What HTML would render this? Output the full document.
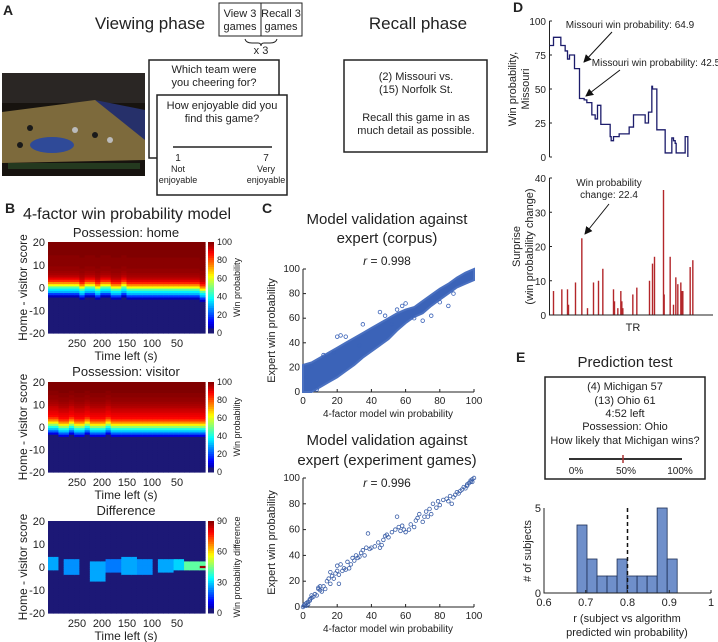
<!DOCTYPE html>
<html><head><meta charset="utf-8">
<style>
html,body{margin:0;padding:0;background:#fff;}
svg{display:block;font-family:"Liberation Sans",Arial,sans-serif;}
text{fill:#222;}
</style></head>
<body>
<svg id="fig" width="718" height="642" viewBox="0 0 718 642" xmlns="http://www.w3.org/2000/svg">
<!-- Panel A -->
<g>
<text x="3" y="15" font-size="14" font-weight="bold">A</text>
<text x="150" y="29" font-size="17" text-anchor="middle">Viewing phase</text>
<rect x="219" y="3" width="83" height="33" fill="none" stroke="#222"/>
<line x1="261" y1="3" x2="261" y2="36" stroke="#222"/>
<text x="240" y="17" font-size="11" text-anchor="middle">View 3</text>
<text x="240" y="30" font-size="11" text-anchor="middle">games</text>
<text x="281" y="17" font-size="11" text-anchor="middle">Recall 3</text>
<text x="281" y="30" font-size="11" text-anchor="middle">games</text>
<path d="M245,39 Q246,43 252,43 L258,43 Q261,43 261,46 Q261,43 264,43 L270,43 Q276,43 277,39" fill="none" stroke="#222"/>
<text x="261" y="54" font-size="11" text-anchor="middle">x 3</text>
<text x="418" y="29" font-size="17" text-anchor="middle">Recall phase</text>
<g>
<rect x="2" y="73" width="143" height="103" fill="#17130f"/>
<rect x="2" y="73" width="143" height="30" fill="#2a2624"/>
<polygon points="2,112 95,100 145,118 145,160 2,163" fill="#7d6a3c"/>
<polygon points="95,100 145,110 145,140" fill="#26306a"/>
<ellipse cx="52" cy="145" rx="22" ry="8" fill="#2f4a98"/>
<rect x="8" y="163" width="132" height="6" fill="#24391f"/>
<circle cx="30" cy="128" r="3" fill="#1a1a1a"/><circle cx="75" cy="130" r="3" fill="#bbb"/><circle cx="95" cy="135" r="3" fill="#1a1a1a"/><circle cx="110" cy="140" r="3" fill="#bbb"/><circle cx="20" cy="145" r="3" fill="#1a1a1a"/>
</g>
<rect x="149" y="60" width="130" height="98" fill="#fff" stroke="#222" stroke-width="1.5"/>
<text x="214" y="73" font-size="11" text-anchor="middle">Which team were</text>
<text x="214" y="86" font-size="11" text-anchor="middle">you cheering for?</text>
<rect x="157" y="95" width="130" height="100" fill="#fff" stroke="#222" stroke-width="1.5"/>
<text x="222" y="109" font-size="11" text-anchor="middle">How enjoyable did you</text>
<text x="222" y="122" font-size="11" text-anchor="middle">find this game?</text>
<line x1="173" y1="147" x2="272" y2="147" stroke="#222" stroke-width="1.5"/>
<text x="178" y="161" font-size="10" text-anchor="middle">1</text>
<text x="178" y="172" font-size="9" text-anchor="middle">Not</text>
<text x="178" y="183" font-size="9" text-anchor="middle">enjoyable</text>
<text x="266" y="161" font-size="10" text-anchor="middle">7</text>
<text x="266" y="172" font-size="9" text-anchor="middle">Very</text>
<text x="266" y="183" font-size="9" text-anchor="middle">enjoyable</text>
<rect x="344" y="60" width="143" height="92" fill="none" stroke="#222" stroke-width="1.5"/>
<text x="416" y="80" font-size="11" text-anchor="middle">(2) Missouri vs.</text>
<text x="416" y="93" font-size="11" text-anchor="middle">(15) Norfolk St.</text>
<text x="416" y="121" font-size="11" text-anchor="middle">Recall this game in as</text>
<text x="416" y="134" font-size="11" text-anchor="middle">much detail as possible.</text>
</g>
<!-- Panel B static text -->
<g>
<text x="5" y="213" font-size="14" font-weight="bold">B</text>
<text x="127" y="219" font-size="16" text-anchor="middle">4-factor win probability model</text>
<text x="126" y="237" font-size="13" text-anchor="middle">Possession: home</text>
<text x="126" y="376" font-size="13" text-anchor="middle">Possession: visitor</text>
<text x="126" y="515" font-size="13" text-anchor="middle">Difference</text>
<g id="heatmaps"></g>
</g>
<!-- Panel C -->
<g>
<text x="262" y="213" font-size="14" font-weight="bold">C</text>
<text x="387" y="224" font-size="15" text-anchor="middle">Model validation against</text>
<text x="387" y="243" font-size="15" text-anchor="middle">expert (corpus)</text>
<text x="387" y="265" font-size="12" text-anchor="middle"><tspan font-style="italic">r</tspan> = 0.998</text>
<text x="387" y="445" font-size="15" text-anchor="middle">Model validation against</text>
<text x="387" y="465" font-size="15" text-anchor="middle">expert (experiment games)</text>
<text x="387" y="487" font-size="12" text-anchor="middle"><tspan font-style="italic">r</tspan> = 0.996</text>
<g id="scatters"></g>
</g>
<!-- Panel D -->
<g>
<text x="513" y="12" font-size="14" font-weight="bold">D</text>
<g id="dplots"></g>
<text x="633" y="331" font-size="11" text-anchor="middle">TR</text>
<text x="630" y="28" font-size="10" text-anchor="middle">Missouri win probability: 64.9</text>
<text x="656" y="66" font-size="10" text-anchor="middle">Missouri win probability: 42.5</text>
<text x="609" y="186" font-size="10" text-anchor="middle">Win probability</text>
<text x="609" y="198" font-size="10" text-anchor="middle">change: 22.4</text>
<defs><marker id="ah" markerWidth="8" markerHeight="8" refX="7" refY="4" orient="auto"><path d="M0,0 L8,4 L0,8 z" fill="#111"/></marker></defs>
<line x1="612" y1="32" x2="584" y2="62" stroke="#111" marker-end="url(#ah)"/>
<line x1="620" y1="70" x2="586" y2="96" stroke="#111" marker-end="url(#ah)"/>
<line x1="609" y1="204" x2="585" y2="234" stroke="#111" marker-end="url(#ah)"/>
</g>
<!-- Panel E -->
<g>
<text x="516" y="362" font-size="14" font-weight="bold">E</text>
<text x="625" y="367" font-size="15" text-anchor="middle">Prediction test</text>
<rect x="545" y="377" width="160" height="102" fill="none" stroke="#222" stroke-width="1.5"/>
<text x="625" y="390" font-size="11" text-anchor="middle">(4) Michigan 57</text>
<text x="625" y="404" font-size="11" text-anchor="middle">(13) Ohio 61</text>
<text x="625" y="417" font-size="11" text-anchor="middle">4:52 left</text>
<text x="625" y="430" font-size="11" text-anchor="middle">Possession: Ohio</text>
<text x="625" y="444" font-size="11" text-anchor="middle">How likely that Michigan wins?</text>
<line x1="569" y1="459" x2="682" y2="459" stroke="#333" stroke-width="2"/>
<line x1="623" y1="455" x2="623" y2="463" stroke="#a33" stroke-width="1.5"/>
<text x="576" y="474" font-size="10" text-anchor="middle">0%</text>
<text x="626" y="474" font-size="10" text-anchor="middle">50%</text>
<text x="680" y="474" font-size="10" text-anchor="middle">100%</text>
<g id="hist"></g>
<text x="627" y="622" font-size="11" text-anchor="middle">r (subject vs algorithm</text>
<text x="627" y="636" font-size="11" text-anchor="middle">predicted win probability)</text>
<text transform="translate(531,551) rotate(-90)" font-size="11" text-anchor="middle"># of subjects</text>
</g>
</svg>
<script>
// ---------- data ----------
// Panel B heatmaps
const scoreRows = [20,19,18,17,16,15,14,13,12,11,10,9,8,7,6,5,4,3,2,1,0,-1,-2,-3,-4,-5,-6,-7,-8,-9,-10,-11,-12,-13,-14,-15,-16,-17,-18,-19,-20];
const homeProb = [100,100,100,100,100,100,100,99,99,99,99,99,98,98,97,96,94,90,84,74,62,46,36,30,18,6,1,0,0,0,0,0,0,0,0,0,0,0,0,0,0];
const visitorProb = [100,100,100,100,100,99,99,98,98,97,96,95,93,92,90,89,87,82,74,64,52,40,32,22,10,3,0,0,0,0,0,0,0,0,0,0,0,0,0,0,0];
const homeShift = [-1,-1,-1,-1,-1,-1,0,-1,-1,0,-1,-1,0,0,-1,0,0,0,0,0,0,0,0,0,0,0,0,0,0,1];
const visitorShift = [-1,-1,0,0,-1,0,0,-1,0,0,0,-1,0,0,0,0,0,0,0,0,0,0,0,0,0,0,0,0,0,0];
const diffPatches = [[0,1,-1,4,26],[3,5,-3,3,24],[8,10,-6,2,26],[11,13,-2,3,22],[14,16,-3,4,26],[17,19,-3,3,24],[21,23,-2,3,26],[24,25,-1,3,30],[26,29,-1,2,42]];
const timeTicks = [250,200,150,100,50];
const scoreTicks = [20,10,0,-10,-20];
const probBarTicks = [100,80,60,40,20,0];
const diffBarTicks = [90,60,30,0];
// Panel C
const bandX = [0,5,10,15,20,25,30,35,40,45,50,55,60,65,70,75,80,85,90,95,100];
const bandLow = [0,0,4,8,12,17,22,28,33,38,43,50,56,61,64,70,75,80,85,88,91];
const bandHigh = [22,24,28,32,36,40,44,48,52,56,60,64,67,69,74,79,84,88,93,97,100];
const corpusOutX = [5,12,18,20,22,25,35,45,52,55,60,65,70,75,80,85,88,2,8,48,58,33];
const corpusOutY = [21,30,32,45,46,45,55,65,55,67,72,60,58,62,73,70,80,12,2,62,70,38];
const gamesX = [0,0.5,1,1,2,2,3,3,4,4,5,5,6,7,8,9,9,10,10,11,12,13,14,15,16,16,17,18,19,20,20,21,21,22,23,24,25,26,27,28,29,30,31,32,33,34,35,36,37,38,39,40,42,44,45,46,47,48,49,50,52,54,55,56,57,58,59,60,62,63,65,66,67,68,70,71,72,73,74,75,76,78,79,80,82,84,85,86,87,88,89,90,91,92,93,94,95,96,96,97,98,98,99,99,100];
const gamesY = [0,1,2,1,3,1,4,2,5,6,7,9,8,10,9,15,14,16,13,12,16,14,20,22,18,27,24,22,26,32,28,25,18,33,28,30,29,35,30,33,38,36,40,38,39,42,44,40,46,57,45,46,47,50,46,48,52,55,56,54,58,60,70,62,59,63,60,58,60,64,62,67,69,72,66,70,74,70,76,72,80,77,82,79,83,84,82,86,80,85,87,89,88,90,91,93,92,95,94,96,97,98,99,97,100];
const axisTicks100 = [0,20,40,60,80,100];
// Panel D
const stepTR = [0,12,34,47,54,60,75,90,104,112,127,137,144,154,182,185,192,209,239,252,287,297,307,309,322,347,360,367,372,377,380,407,415];
const winProb = [82,88,82,78,72,75,65,43,42,40,31,28,38,24,15,12,15,17,22,31,25,33,52,50,20,3,3,14,12,10,3,15,0];
const spikeTR = [12,37,54,57,78,97,114,132,147,160,192,195,205,214,217,220,250,262,300,309,315,342,344,362,372,379,385,394,397,400,422,430];
const spikeVal = [7,7.5,7.5,3,9.5,22.4,2,9.5,10,13.5,7.5,4,2,7,4,2,6,8,10,15,17,36.5,6,17,3,11,9,9.5,7,7,14,16];
const winTicks = [0,25,50,75,100];
const surpriseTicks = [0,10,20,30,40];
// Panel E
const binEdgesStart = [0.679,0.703,0.727,0.751,0.775,0.799,0.823,0.847,0.871,0.895];
const binCounts = [4,2,1,1,2,1,1,1,5,2];
const histXTicks = [0.6,0.7,0.8,0.9,1];
const histYTicks = [0,5];
const meanR = 0.8;

// ---------- helpers ----------
const NS = "http://www.w3.org/2000/svg";
function mk(tag, attrs, parent){const e=document.createElementNS(NS,tag);for(const k in attrs)e.setAttribute(k,attrs[k]);parent.appendChild(e);return e;}
function jet(v){v=Math.max(0,Math.min(1,v));const c=x=>Math.round(255*Math.max(0,Math.min(1,x)));
  return `rgb(${c(1.5-Math.abs(4*v-3))},${c(1.5-Math.abs(4*v-2))},${Math.max(c(1.5-Math.abs(4*v-1)),0)})`;}
function jetDark(v){ // slightly muted navy at low end like reference
  if(v<0.05) return 'rgb(28,24,118)'; return jet(v);}

// ---------- Panel B ----------
const hm = document.getElementById('heatmaps');
const HX0=48, HX1=205, nCols=30;
const xTime = t => 77 + (250 - t) * 0.5;
function drawHeat(top, bottom, valueAt, vmax, ticks, cbLabel, key){
  const g = mk('g',{},hm);
  
  
  const cw=(HX1-HX0)/nCols, rh=(bottom-top)/scoreRows.length;
  for(let c=0;c<nCols;c++){for(let r=0;r<scoreRows.length;r++){
    const v=valueAt(c,r);
    const cell=mk('rect',{x:HX0+c*cw,y:top+r*rh,width:cw+0.6,height:rh+0.6,fill:jetDark(v/vmax)},g);
    
    
  }}
  const ys = s => top + (20 - s)/40*(bottom-top);
  for(const s of scoreTicks){
    const t=mk('text',{x:HX0-3,y:ys(s)+4,'font-size':11,'text-anchor':'end'},g);t.textContent=s;
    
    
  }
  for(const tt of timeTicks){
    const t=mk('text',{x:xTime(tt),y:bottom+14,'font-size':11,'text-anchor':'middle'},g);t.textContent=tt;
    
    
  }
  const xl=mk('text',{x:126,y:bottom+27,'font-size':12,'text-anchor':'middle'},g);xl.textContent='Time left (s)';
  
  
  const yl=mk('text',{transform:`translate(27,${(top+bottom)/2}) rotate(-90)`,'font-size':12,'text-anchor':'middle'},g);yl.textContent='Home - visitor score';
  
  
  const cb=mk('g',{},g);
  
  
  const n=40;for(let i=0;i<n;i++){mk('rect',{x:208,y:top+i*(bottom-top)/n,width:6,height:(bottom-top)/n+0.5,fill:jetDark(1-(i+0.5)/n)},cb);}
  for(const tk of ticks){const t=mk('text',{x:217,y:top+(1-tk/vmax)*(bottom-top)+3,'font-size':9},cb);t.textContent=tk;
    
    }
  const cl=mk('text',{transform:`translate(240,${(top+bottom)/2}) rotate(-90)`,'font-size':9,'text-anchor':'middle'},cb);cl.textContent=cbLabel;
  
  
}
function profileAt(prof, shift){return (c,r)=>{let rr=r-shift[c];rr=Math.max(0,Math.min(prof.length-1,rr));return prof[rr];};}
drawHeat(242,333,profileAt(homeProb,homeShift),100,probBarTicks,'Win probability','home');
drawHeat(382,472,profileAt(visitorProb,visitorShift),100,probBarTicks,'Win probability','visitor');
drawHeat(521,613,(c,r)=>{const s=scoreRows[r];let v=0;for(const p of diffPatches){if(c>=p[0]&&c<=p[1]&&s>=p[2]&&s<=p[3])v=p[4];}if(c===nCols-1&&s===0)v=88;return v;},90,diffBarTicks,'Win probability difference','difference');

// ---------- Panel C ----------
const sc=document.getElementById('scatters');
const cx = v => 303 + v/100*171;
function drawAxes(top,bottom,key){
  const g=mk('g',{},sc);
  
  
  const cy=v=>bottom-v/100*(bottom-top);
  mk('path',{d:`M${cx(0)},${top} V${bottom} H${cx(100)}`,fill:'none',stroke:'#222'},g);
  for(const tk of axisTicks100){
    mk('line',{x1:cx(0),x2:cx(0)+3,y1:cy(tk),y2:cy(tk),stroke:'#222'},g);
    mk('line',{x1:cx(tk),x2:cx(tk),y1:bottom,y2:bottom-3,stroke:'#222'},g);
    const a=mk('text',{x:cx(0)-3,y:cy(tk)+3,'font-size':10,'text-anchor':'end'},g);a.textContent=tk;
    
    
    const b=mk('text',{x:cx(tk),y:bottom+12,'font-size':10,'text-anchor':'middle'},g);b.textContent=tk;
    
    
  }
  const xl=mk('text',{x:388,y:bottom+25,'font-size':10,'text-anchor':'middle'},g);xl.textContent='4-factor model win probability';
  
  
  const yl=mk('text',{transform:`translate(275,${(top+bottom)/2}) rotate(-90)`,'font-size':11,'text-anchor':'middle'},g);yl.textContent='Expert win probability';
  
  
  return {g,cy};
}
{
  const {g,cy}=drawAxes(269,392,'corpus');
  let d='M'+bandX.map((x,i)=>`${cx(x)},${cy(bandHigh[i])}`).join(' L');
  d+=' L'+bandX.map((x,i)=>`${cx(x)},${cy(bandLow[i])}`).reverse().join(' L')+' Z';
  const band=mk('path',{d,fill:'#3b63b8',stroke:'#4a70c0','stroke-width':2},g);
  
  
  corpusOutX.forEach((x,i)=>{const c=mk('circle',{cx:cx(x),cy:cy(corpusOutY[i]),r:1.8,fill:'none',stroke:'#3b63b8','stroke-width':0.8},g);
    
    });
}
{
  const {g,cy}=drawAxes(478,607,'games');
  gamesX.forEach((x,i)=>{const c=mk('circle',{cx:cx(x),cy:cy(gamesY[i]),r:1.8,fill:'none',stroke:'#3b5fa8','stroke-width':0.8},g);
    
    });
}

// ---------- Panel D ----------
const dp=document.getElementById('dplots');
const xD = tr => 549.5 + tr/3;
{
  const top=21,bottom=157; const yW=v=>bottom-v/100*(bottom-top);
  const g=mk('g',{},dp);
  
  
  mk('line',{x1:549.5,x2:549.5,y1:top,y2:bottom,stroke:'#222'},g);
  for(const tk of winTicks){mk('line',{x1:549.5,x2:552,y1:yW(tk),y2:yW(tk),stroke:'#222'},g);
    const t=mk('text',{x:546,y:yW(tk)+4,'font-size':10,'text-anchor':'end'},g);t.textContent=tk;
    
    }
  let d=`M${xD(stepTR[0])},${yW(winProb[0])}`;
  for(let i=1;i<stepTR.length;i++){d+=` H${xD(stepTR[i])} V${yW(winProb[i])}`;}
  const line=mk('path',{d,fill:'none',stroke:'#1c1c6b','stroke-width':1.3},g);
  
  
  const y1=mk('text',{transform:`translate(516,${(top+bottom)/2}) rotate(-90)`,'font-size':11,'text-anchor':'middle'},g);y1.textContent='Win probability,';
  
  
  const y2=mk('text',{transform:`translate(529,${(top+bottom)/2}) rotate(-90)`,'font-size':11,'text-anchor':'middle'},g);y2.textContent='Missouri';
  
  
}
{
  const top=178,bottom=315; const yS=v=>bottom-v/40*(bottom-top);
  const g=mk('g',{},dp);
  
  
  spikeTR.forEach((tr,i)=>{const l=mk('line',{x1:xD(tr),x2:xD(tr),y1:bottom,y2:yS(spikeVal[i]),stroke:'#b3262a','stroke-width':1.4},g);
    
    });
  mk('path',{d:`M549.5,${top} V${bottom} H713`,fill:'none',stroke:'#222'},g);
  for(const tk of surpriseTicks){mk('line',{x1:549.5,x2:552,y1:yS(tk),y2:yS(tk),stroke:'#222'},g);
    const t=mk('text',{x:546,y:yS(tk)+4,'font-size':10,'text-anchor':'end'},g);t.textContent=tk;
    
    }
  const y1=mk('text',{transform:`translate(520,${(top+bottom)/2}) rotate(-90)`,'font-size':11,'text-anchor':'middle'},g);y1.textContent='Surprise';
  
  
  const y2=mk('text',{transform:`translate(533,${(top+bottom)/2}) rotate(-90)`,'font-size':11,'text-anchor':'middle'},g);y2.textContent='(win probability change)';
  
  
}

// ---------- Panel E ----------
const hg=document.getElementById('hist');
{
  const x0=544,x1=711,top=508,bottom=593;
  const xH=v=>x0+(v-0.6)/0.4*(x1-x0); const yH=v=>bottom-v/5*(bottom-top);
  binEdgesStart.forEach((b,i)=>{const r=mk('rect',{x:xH(b),y:yH(binCounts[i]),width:xH(b+0.024)-xH(b),height:bottom-yH(binCounts[i]),fill:'#6f8fca',stroke:'#1d2f55','stroke-width':0.8},hg);
    
    });
  mk('path',{d:`M${x0},${top} V${bottom} H${x1}`,fill:'none',stroke:'#222'},hg);
  const ml=mk('line',{x1:xH(meanR),x2:xH(meanR),y1:top,y2:bottom,stroke:'#111','stroke-width':1.5,'stroke-dasharray':'4,3'},hg);
  
  
  for(const tk of histXTicks){mk('line',{x1:xH(tk),x2:xH(tk),y1:bottom,y2:bottom-3,stroke:'#222'},hg);
    const t=mk('text',{x:xH(tk),y:bottom+13,'font-size':11,'text-anchor':'middle'},hg);t.textContent=tk;
    
    }
  for(const tk of histYTicks){const t=mk('text',{x:x0-3,y:yH(tk)+4,'font-size':11,'text-anchor':'end'},hg);t.textContent=tk;
    
    }
}
</script>
</body></html>
